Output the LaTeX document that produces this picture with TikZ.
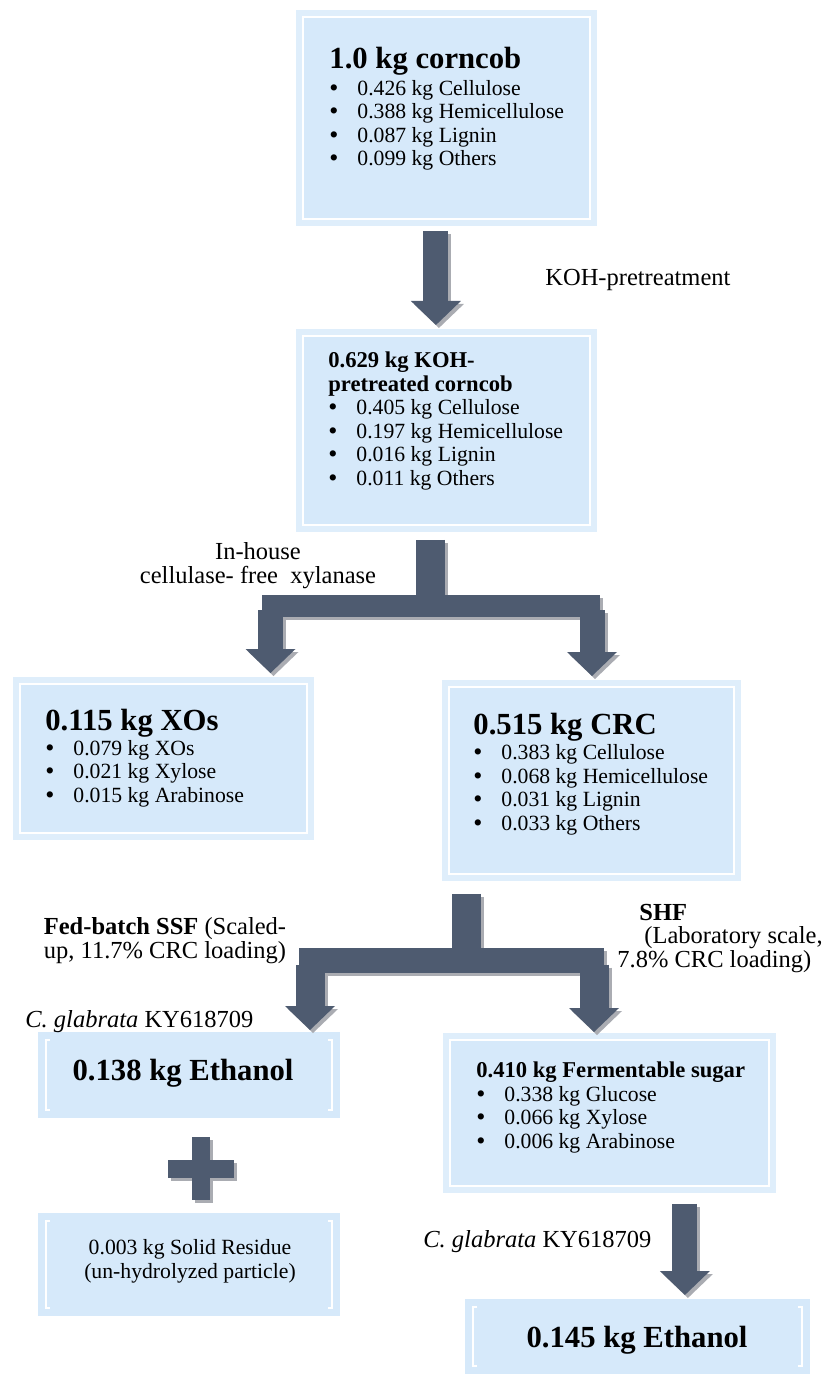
\documentclass[tikz,border=0pt]{standalone}
\usepackage{fontspec}
\setmainfont{Liberation Serif}
\usetikzlibrary{arrows.meta,calc}
\definecolor{flowfill}{RGB}{214,233,250}
\definecolor{flowband}{RGB}{223,238,251}
\definecolor{flowarrow}{RGB}{78,91,112}
\definecolor{flowshade}{RGB}{170,172,178}
\newcommand{\bodyfont}{\fontsize{10.85}{11.75}\selectfont}
\newcommand{\headfont}{\fontsize{15.35}{16}\selectfont\bfseries}
\newcommand{\subheadfont}{\fontsize{11.3}{11.75}\selectfont\bfseries}
\newcommand{\labelfont}{\fontsize{12.25}{11.75}\selectfont}
\newcommand{\itm}[1]{\makebox[14pt][l]{\smash{\raisebox{-0.5pt}{\fontsize{13}{0}\selectfont\textbullet}}}#1}
% all block arrows and the plus sign, drawn once as shadow and once on top
\newcommand{\flowarrows}{%
  \draw[shaft=12.5pt, tip] ([xshift=-5.5pt]corncob.south) -- ([xshift=-5.5pt]koh.north);
  % split after xylanase
  \draw[shaft=14.5pt, shorten <=3.5pt] (koh.south -| forkA) -- (forkA);
  \draw[shaft=11pt] ([xshift=-6.25pt]forkAl) -- ([xshift=6pt]forkAr);
  \draw[shaft=12.5pt, tip] (forkAl) -- (forkAl |- xos.north);
  \draw[shaft=12.5pt, tip] (forkAr) -- (forkAr |- crc.north);
  % split SSF / SHF
  \draw[shaft=14.5pt, shorten <=6pt] (crc.south -| forkB) -- (forkB);
  \draw[shaft=12.5pt] ([xshift=-7.5pt]forkBl) -- ([xshift=7pt]forkBr);
  \draw[shaft=14.5pt, tip, shorten >=1pt] (forkBl) -- (forkBl |- ethssf.north);
  \draw[shaft=14.5pt, tip, shorten >=0.5pt] (forkBr) -- (forkBr |- sugar.north);
  \draw[shaft=12.5pt, tip, shorten <=5pt] ([xshift=37.5pt]sugar.south) -- ([xshift=37.5pt]sugar.south |- ethshf.north);
  % plus
  \fill[flowarrow] (192,1137) rectangle (210,1200);
  \fill[flowarrow] (168,1160) rectangle (234,1178);
}

\begin{document}
\begin{tikzpicture}[x=0.5pt, y=-0.5pt,
  flowbox/.style={fill=flowband, inner sep=0pt, anchor=north west,
    path picture={\draw[white, line width=1pt, fill=flowfill]
      ([shift={(3.5pt,-3.5pt)}]path picture bounding box.north west) rectangle
      ([shift={(-3.5pt,3.5pt)}]path picture bounding box.south east);}},
  bracketbox/.style={fill=flowfill, inner sep=0pt, anchor=north west,
    path picture={\draw[white, line width=1pt]
      ([shift={(6pt,-4pt)}]path picture bounding box.north west)
        -| ([shift={(4pt,4pt)}]path picture bounding box.south west) -- ++(2pt,0)
      ([shift={(-6pt,-4pt)}]path picture bounding box.north east)
        -| ([shift={(-4pt,4pt)}]path picture bounding box.south east) -- ++(-2pt,0);}},
  boxtext/.style={inner sep=0pt, align=left, font=\bodyfont},
  lbl/.style={inner sep=0pt, font=\labelfont},
  shaft/.style={draw=flowarrow, line width=#1, shorten <=2pt, shorten >=2pt},
  tip/.style={-{Triangle[width=25pt, length=12pt, line width=0pt]}}
]
\useasboundingbox (0,0) rectangle (833,1374);

% boxes
\node[flowbox, minimum width=150.5pt, minimum height=108pt] (corncob) at (296,10) {};
\node[flowbox, minimum width=150.5pt, minimum height=101.5pt] (koh) at (296,329) {};
\node[flowbox, minimum width=150.5pt, minimum height=81.5pt] (xos) at (13,677) {};
\node[flowbox, minimum width=149.5pt, minimum height=100.5pt] (crc) at (442,680) {};
\node[bracketbox, minimum width=151pt, minimum height=43pt] (ethssf) at (38,1032) {};
\node[bracketbox, minimum width=151pt, minimum height=51.5pt] (residue) at (38,1213) {};
\node[flowbox, minimum width=166.5pt, minimum height=80pt] (sugar) at (443,1033) {};
\node[bracketbox, minimum width=172.5pt, minimum height=37.5pt] (ethshf) at (465,1299) {};

% box contents (base = last line)
\node[boxtext, anchor=base west] (corncobtxt) at (329,166)
  {{\headfont 1.0 kg corncob}\\[1.75pt]
   \itm{0.426 kg Cellulose}\\\itm{0.388 kg Hemicellulose}\\
   \itm{0.087 kg Lignin}\\\itm{0.099 kg Others}};
\node[boxtext, anchor=base west] (kohtxt) at (328,485)
  {{\subheadfont 0.629 kg KOH-}\\{\subheadfont pretreated corncob}\\
   \itm{0.405 kg Cellulose}\\\itm{0.197 kg Hemicellulose}\\
   \itm{0.016 kg Lignin}\\\itm{0.011 kg Others}};
\node[boxtext, anchor=base west] (xostxt) at (45,802)
  {{\headfont 0.115 kg XOs}\\[0.75pt]
   \itm{0.079 kg XOs}\\\itm{0.021 kg Xylose}\\\itm{0.015 kg Arabinose}};
\node[boxtext, anchor=base west] (crctxt) at (473,830)
  {{\headfont 0.515 kg CRC}\\[0.75pt]
   \itm{0.383 kg Cellulose}\\\itm{0.068 kg Hemicellulose}\\
   \itm{0.031 kg Lignin}\\\itm{0.033 kg Others}};
\node[boxtext, anchor=base] (ethssftxt) at (183,1080) {\headfont 0.138 kg Ethanol};
\node[boxtext, align=center, anchor=base] (residuetxt) at (190,1278)
  {0.003 kg Solid Residue\\(un-hydrolyzed particle)};
\node[boxtext, anchor=base west] (sugartxt) at (476,1148)
  {{\subheadfont 0.410 kg Fermentable sugar}\\
   \itm{0.338 kg Glucose}\\\itm{0.066 kg Xylose}\\\itm{0.006 kg Arabinose}};
\node[boxtext, anchor=base] (ethshftxt) at (637,1347) {\headfont 0.145 kg Ethanol};

% fork points
\coordinate (forkA) at (430.5,606);
\coordinate (forkAl) at (270.5,606);
\coordinate (forkAr) at (592,606);
\coordinate (forkB) at (466.5,960.5);
\coordinate (forkBl) at (310,960.5);
\coordinate (forkBr) at (594,960.5);

\begin{scope}[transform canvas={shift={(1.5pt,-1.5pt)}}]
  \colorlet{flowarrow}{flowshade}
  \flowarrows
\end{scope}
\flowarrows

% process labels
\node[lbl, anchor=base west] (kohlbl) at (545,286) {KOH-pretreatment};
\node[lbl, align=center, anchor=base] (xynlbl) at (258,583)
  {In-house\\cellulase- free~ xylanase};
\node[lbl, align=center, anchor=base] (ssflbl) at (165,958)
  {\textbf{Fed-batch SSF} (Scaled-\\up, 11.7\% CRC loading)};
\node[lbl, align=left, anchor=base west] (shflbl) at (617,967)
  {\hspace*{11pt}\textbf{SHF}\\\hspace*{13.5pt}(Laboratory scale,\\7.8\% CRC loading)};
\node[lbl, anchor=base west] (ssfyeast) at (25,1027) {\textit{C. glabrata} KY618709};
\node[lbl, anchor=base west] (shfyeast) at (423,1247) {\textit{C. glabrata} KY618709};
\end{tikzpicture}
\end{document}
